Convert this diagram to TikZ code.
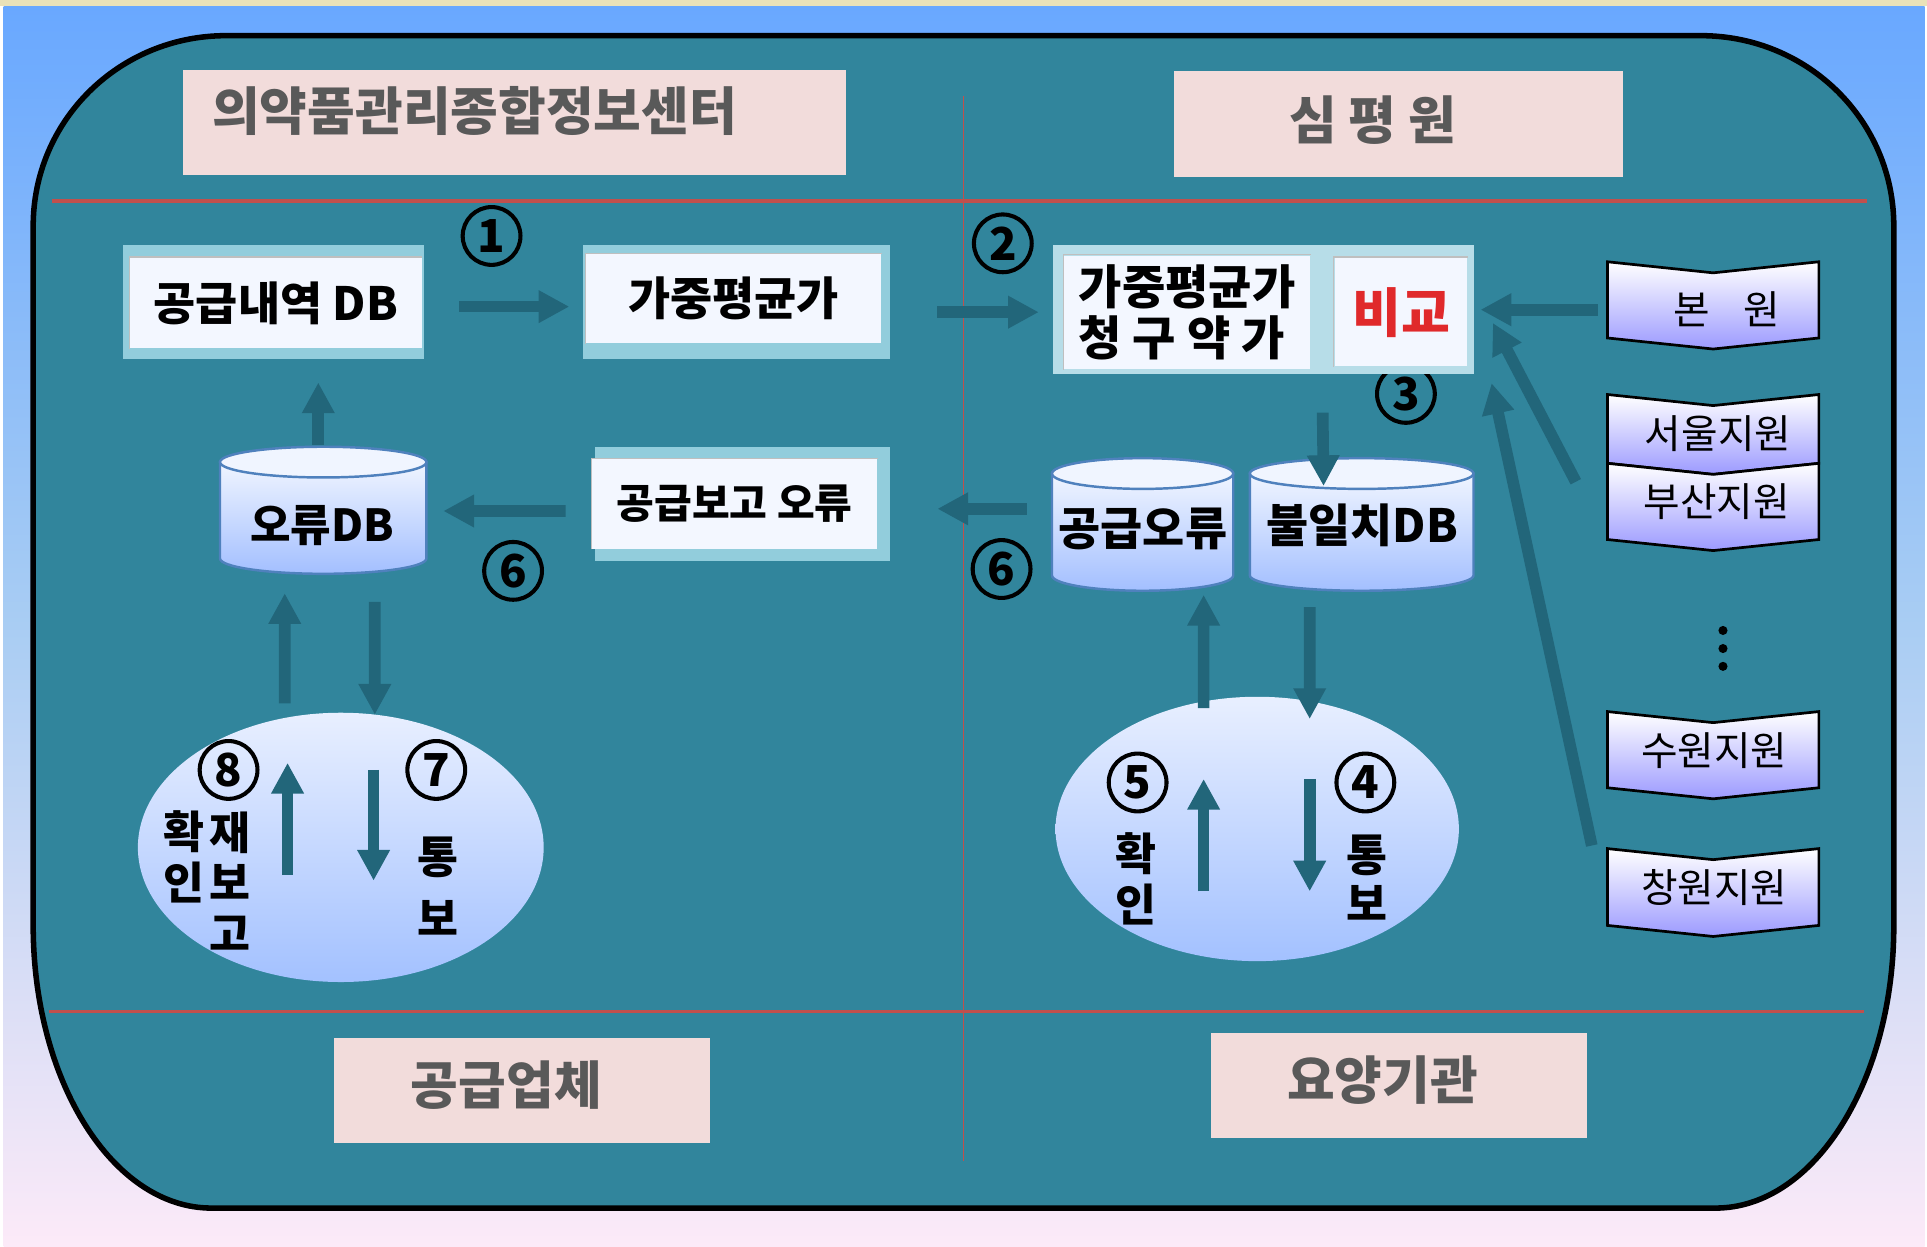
\documentclass[tikz,border=0pt]{standalone}
\usepackage{fontspec}
\setmainfont{Noto Sans CJK KR}
\usetikzlibrary{arrows.meta,calc,shapes.geometric}
\definecolor{paneteal}{HTML}{31859C}
\definecolor{framedark}{HTML}{92CDDC}
\definecolor{framelight}{HTML}{B7DDE8}
\definecolor{boxwhite}{HTML}{F3F7FF}
\definecolor{headpink}{HTML}{F2DCDB}
\definecolor{headgray}{HTML}{595959}
\definecolor{splitred}{HTML}{C0504D}
\definecolor{arrowteal}{HTML}{22667A}
\definecolor{cyltop}{HTML}{F0F5FF}
\definecolor{cylbot}{HTML}{A3BFFF}
\definecolor{cylline}{HTML}{4F81BD}
\definecolor{bubtop}{HTML}{E8EFFF}
\definecolor{bubbot}{HTML}{A3C1FF}
\definecolor{chevlav}{HTML}{9C9AFF}
\definecolor{cmpred}{HTML}{E0292B}
\definecolor{bgtop}{HTML}{69A8FF}
\definecolor{bgmid}{HTML}{A9CDF3}
\definecolor{bgbot}{HTML}{FCEAF8}
\definecolor{bgstripe}{HTML}{EAE2B9}

\newcommand{\dghead}{\fontsize{12pt}{14pt}\selectfont\bfseries}
\newcommand{\dgbox}{\fontsize{10.6pt}{12.6pt}\selectfont\bfseries}
\newcommand{\dgchev}{\fontsize{9.2pt}{11pt}\selectfont}

\begin{document}
\begin{tikzpicture}[x=0.01cm,y=-0.01cm,
    fat/.style={draw=arrowteal, line width=0.095cm, -{Triangle[length=0.25cm,width=0.25cm]}},
    num/.style={circle, draw=black, line width=0.033cm, minimum size=0.47cm, inner sep=0pt,
        font={\fontsize{10.5pt}{12pt}\selectfont\bfseries}},
    whitebox/.style={fill=boxwhite, inner sep=0pt, font=\dgbox},
    headtext/.style={text=headgray, font=\dghead, inner sep=0pt},
    dbtext/.style={inner sep=0pt, font=\dgbox},
    chevtext/.style={inner sep=0pt, minimum width=1.76cm, font=\dgchev},
    bubble/.style={ellipse, top color=bubtop, bottom color=bubbot, inner sep=0pt},
    vtext/.style={align=center, inner sep=0pt}]
    \useasboundingbox (0,0) rectangle (1568,1014);
    % background
    \fill[white] (0,0) rectangle (1568,1014);
    \shade[top color=bgtop, bottom color=bgbot, middle color=bgmid] (3,5) rectangle (1566,1014);
    \fill[bgstripe] (0,0) rectangle (1568,5);
    % rounded panel
    \draw[line width=0.045cm, fill=paneteal] (27,184) .. controls (27,98) and (97,29) .. (184,29)
        -- (1384,29) .. controls (1471,29) and (1541,98) .. (1541,184)
        -- (1541,753) .. controls (1541,880) and (1476,983) .. (1396,983)
        -- (172,983) .. controls (92,983) and (27,880) .. (27,753) -- cycle;
    \draw[splitred, line width=0.027cm] (42,163.5) -- (1519,163.5);
    \draw[splitred, line width=0.027cm] (40,823) -- (1517,823);
    \draw[splitred, line width=0.015cm] (784,78.5) -- (784,945);
    % headers
    \fill[headpink] (149,57) rectangle (688,142);
    \fill[headpink] (955,58) rectangle (1321,144);
    \fill[headpink] (272,845) rectangle (578,930);
    \fill[headpink] (985,840.5) rectangle (1291,925.7);
    \node[headtext, anchor=west] (nidmc) at (172,90) {의약품관리종합정보센터};
    \node[headtext] (hira) at (1117,97.5) {심 평 원};
    \node[headtext] (vendor) at (412,883) {공급업체};
    \node[headtext] (hosp) at (1125,879) {요양기관};
    % boxes
    \fill[framedark] (100,199) rectangle (345,292);
    \fill[framedark] (474,199) rectangle (724,292);
    \node[num] (n3) at (1144,320.5) {3};
    \fill[framelight] (857,199) rectangle (1199,304);
    \fill[framedark] (484,363.5) rectangle (724,456.5);
    \node[whitebox, minimum width=2.37cm, minimum height=0.73cm] (supply) at (224.5,246.5) {공급내역 DB};
    \node[whitebox, minimum width=2.40cm, minimum height=0.72cm] (wavg) at (597,243) {가중평균가};
    \node[whitebox, minimum width=2.00cm, minimum height=0.92cm, align=left,
        font={\fontsize{10.9pt}{11.7pt}\selectfont\bfseries}] (claim) at (966,254) {가중평균가\\청 구 약 가};
    \node[whitebox, minimum width=1.08cm, minimum height=0.88cm, text=cmpred,
        font={\fontsize{12.3pt}{14pt}\selectfont\bfseries}] (cmp) at (1140,254) {비교};
    \node[whitebox, minimum width=2.315cm, minimum height=0.727cm,
        font={\fontsize{9.5pt}{11pt}\selectfont\bfseries}] (rpterr) at (597.75,410) {공급보고 오류};
    \foreach \b in {supply,wavg,claim,cmp,rpterr}
        \draw[gray!50, line width=0.012cm] (\b.south west) -- (\b.north west) -- (\b.north east);
    % databases
    \foreach \cx/\w/\yt/\yb in {263/168/376/454.4, 929.75/147.5/385.3/468.2, 1108/182/385.3/468.2}{
        \shade[top color=cyltop, bottom color=cylbot, draw=cylline, line width=0.02cm]
            (\cx-\w/2,\yt) -- (\cx-\w/2,\yb) arc[start angle=180, end angle=0, x radius=\w/2, y radius=12.5]
            -- (\cx+\w/2,\yt) -- cycle;
        \filldraw[fill=cyltop, draw=cylline, line width=0.02cm] (\cx,\yt) ellipse[x radius=\w/2, y radius=12.5];
    }
    \node[dbtext, minimum width=1.68cm, font={\fontsize{10.2pt}{12pt}\selectfont\bfseries}] (errdb) at (262,428) {오류DB};
    \node[dbtext, minimum width=1.475cm] (supperr) at (930,430) {공급오류};
    \node[dbtext, minimum width=1.82cm] (mismatch) at (1108.5,427.5) {불일치DB};
    % bubbles
    \node[bubble, minimum width=3.30cm, minimum height=2.19cm] (vbubble) at (277.3,689.5) {};
    \node[bubble, minimum width=3.28cm, minimum height=2.15cm] (hbubble) at (1023,674.5) {};
    % branch offices
    \foreach \yt/\hh in {213/62, 321/56, 377/62, 579/62, 690.5/62.5}
        \shade[top color=white, bottom color=chevlav, draw=black, line width=0.022cm]
            (1308,\yt) -- (1394,\yt+9) -- (1480,\yt) -- (1480,\yt+\hh) -- (1394,\yt+\hh+9) -- (1308,\yt+\hh) -- cycle;
    \foreach \tx/\ty/\nm/\txt in {1405/252/bon/본\hspace{0.85em}원, 1398/352.6/seoul/서울지원,
        1397/408/busan/부산지원, 1395/610.6/suwon/수원지원, 1395/722.4/changwon/창원지원}
        \node[chevtext] (\nm) at (\tx,\ty) {\txt};
    \foreach \dy in {513,527.7,542.2}
        \fill[black] (1402,\dy) circle (3.7);
    % arrows
    \draw[fat] ($(supply.east)+(30,3)$) -- ($(wavg.west)+(-13,6.5)$);
    \draw[fat] ($(wavg.east)+(45,11)$) -- ($(claim.west)+(-20,0)$);
    \draw[fat] ($(bon.west)+(-16,0)$) -- ($(cmp.east)+(10,-2)$);
    \draw[fat] ($(busan.west)+(-26,-16)$) -- ($(cmp.south east)+(20,-36)$);
    \draw[fat] ($(changwon.west)+(-11,-34.4)$) -- ($(cmp.south east)+(19,13)$);
    \draw[fat] ($(cmp.south west)+(-9,37)$) -- ($(mismatch)+(-31.5,-32)$);
    \draw[fat] ($(rpterr.west)+(-21,5.8)$) -- ($(errdb.east)+(14,-12.2)$);
    \draw[fat] ($(supperr.west)+(-20,-16)$) -- ($(rpterr.east)+(48.5,4)$);
    \draw[fat] ($(errdb)+(-3,-66)$) -- ($(supply.south)+(34.5,27.5)$);
    \draw[fat] ($(vbubble.north)+(-45.6,-7)$) -- ($(errdb)+(-30.3,54.7)$);
    \draw[fat] ($(errdb)+(43,61.8)$) -- ($(vbubble.north)+(27.7,2.3)$);
    \draw[fat] ($(vbubble)+(-43.3,22.5)$) -- ($(vbubble)+(-43.3,-68.8)$);
    \draw[fat] ($(vbubble)+(26.7,-63)$) -- ($(vbubble)+(26.7,27.1)$);
    \draw[fat] ($(hbubble.north)+(-43.6,10)$) -- ($(supperr)+(49.4,54)$);
    \draw[fat] ($(mismatch)+(-42.8,66.5)$) -- ($(hbubble.north)+(42.7,18.8)$);
    \draw[fat] ($(hbubble)+(-43.6,50.8)$) -- ($(hbubble)+(-43.6,-40.7)$);
    \draw[fat] ($(hbubble)+(42.7,-40.7)$) -- ($(hbubble)+(42.7,50.8)$);
    % step numbers
    \node[num] (n1) at (400,192) {1};
    \node[num] (n2) at (816,198) {2};
    \node[num] (n6) at (417.5,464.5) {6};
    \node[num] (n6r) at (815,463) {6};
    \node[num] (n8) at (186,626.5) {8};
    \node[num] (n7) at (355,626.5) {7};
    \node[num] (n5) at (925.7,636.7) {5};
    \node[num] (n4) at (1111,636.7) {4};
    % vertical labels
    \node[vtext, font={\fontsize{10.3pt}{11.9pt}\selectfont\bfseries}] (vconf) at (149.5,697) {확\\인};
    \node[vtext, font={\fontsize{10.3pt}{11.7pt}\selectfont\bfseries}] (vrerep) at (187,717) {재\\보\\고};
    \node[vtext, font={\fontsize{10.3pt}{14.2pt}\selectfont\bfseries}] (vnote) at (356,721) {통\\보};
    \node[vtext, font={\fontsize{10.3pt}{11.9pt}\selectfont\bfseries}] (hconf) at (924,715) {확\\인};
    \node[vtext, font={\fontsize{10.3pt}{11.4pt}\selectfont\bfseries}] (hnote) at (1112.4,714) {통\\보};
\end{tikzpicture}
\end{document}
